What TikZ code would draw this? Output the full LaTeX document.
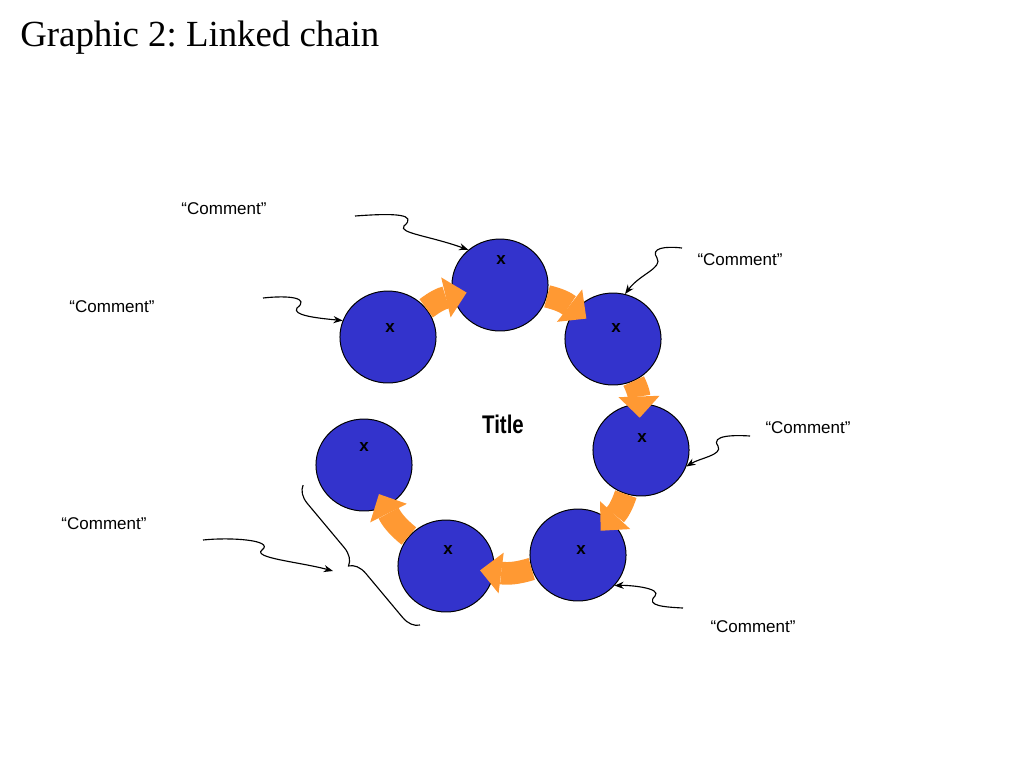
\documentclass[tikz,border=0pt]{standalone}
\usepackage{fontspec}
\setmainfont{Liberation Serif}
\setsansfont{Liberation Sans}
\newfontfamily\narrowbold[FakeStretch=0.8]{Liberation Sans Bold}
\usetikzlibrary{shapes.geometric,arrows.meta,decorations.pathreplacing}

\definecolor{ringblue}{RGB}{51,51,204}
\definecolor{linkorange}{RGB}{255,153,51}

\tikzset{
  ring/.style={ellipse,draw=black,line width=0.7pt,fill=ringblue,
    minimum width=67.8pt,minimum height=64.9pt,inner sep=0pt},
  xmark/.style={font=\sffamily\bfseries\fontsize{12}{14}\selectfont,inner sep=0pt},
  link/.style={linkorange,line width=16pt,
    -{Triangle[length=15pt,width=29pt,line width=0pt]},shorten >=-10pt},
  comment/.style={font=\sffamily\fontsize{12}{14}\selectfont,inner sep=0pt},
  pointer/.style={line width=0.8pt,-{Stealth[length=6.5pt,width=5pt]}}
}

\begin{document}
\frenchspacing
\begin{tikzpicture}[x=0.7058pt,y=-0.7058pt]
  \useasboundingbox (0,0) rectangle (1024,768);
  \node[anchor=base west,inner sep=0pt,font=\fontsize{26}{30}\selectfont]
    (heading) at (20,46) {Graphic 2: Linked chain};

  % the chain
  \node[ring] (c1) at (388,337) {};
  \node[ring] (c2) at (500,285) {};
  \node[ring] (c3) at (613,339) {};
  \node[ring] (c4) at (641,450) {};
  \node[ring] (c5) at (578,555) {};
  \node[ring] (c6) at (446,566) {};
  \node[ring] (c7) at (364,465) {};

  \node[xmark] (x1) at (390,328) {x};
  \node[xmark] (x2) at (501,260) {x};
  \node[xmark] (x3) at (616,328) {x};
  \node[xmark] (x4) at (642,438) {x};
  \node[xmark] (x5) at (581,550) {x};
  \node[xmark] (x6) at (448,550) {x};
  \node[xmark] (x7) at (364,447) {x};

  \draw[link] (c1) to[bend left=12] (c2);
  \draw[link] (c2) to[bend left=12] (c3);
  \draw[link] (c3) to[bend left=12] (c4);
  \draw[link] (c4) to[bend left=12] (c5);
  \draw[link] (c5) to[bend left=12] (c6);
  \draw[link] (c6) to[bend left=12] (c7);

  \node[font=\narrowbold\fontsize{18}{20}\selectfont] (title) at (503,424) {Title};

  % comments
  \node[comment] (m1) at (224,209) {“Comment”};
  \node[comment] (m2) at (112,307) {“Comment”};
  \node[comment] (m3) at (740,260) {“Comment”};
  \node[comment] (m4) at (808,428) {“Comment”};
  \node[comment] (m5) at (753,627) {“Comment”};
  \node[comment] (m6) at (104,524) {“Comment”};

  \coordinate (w1) at (355,216);
  \coordinate (w2) at (263,298);
  \coordinate (w3) at (682,248);
  \coordinate (w4) at (750,436);
  \coordinate (w5) at (683,608);
  \coordinate (w6) at (203,540);
  \coordinate (cusp) at (333,571);

  \draw[pointer] (w1) .. controls (395,213) and (418,214) .. (404,226)
    .. controls (398,233) and (430,236) .. (c2.132);
  \draw[pointer] (w2) .. controls (290,295) and (310,298) .. (297,308)
    .. controls (292,315) and (315,318) .. (c1.160);
  \draw[pointer] (w3) .. controls (665,246) and (650,248) .. (657,258)
    .. controls (663,268) and (640,274) .. (c3.75);
  \draw[pointer] (w4) .. controls (735,435) and (710,435) .. (718,446)
    .. controls (723,455) and (700,458) .. (c4.-20);
  \draw[pointer] (w5) .. controls (665,607) and (645,606) .. (655,596)
    .. controls (662,588) and (630,585) .. (c5.-40);
  \draw[pointer] (w6) .. controls (230,537) and (275,540) .. (262,550)
    .. controls (252,558) and (300,562) .. (cusp);

  % brace
  \draw[line width=0.8pt,decorate,decoration={brace,amplitude=12pt}]
    (420,625) -- (303,485);
\end{tikzpicture}
\end{document}
